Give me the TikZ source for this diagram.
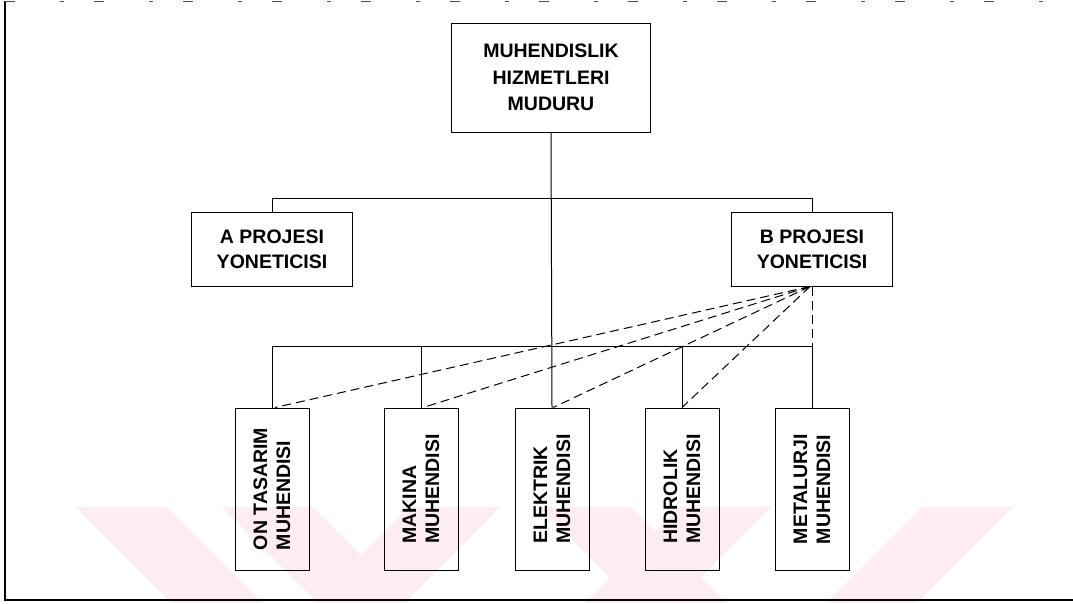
\documentclass[tikz,border=0pt]{standalone}
\usepackage{fontspec}
\setmainfont{Liberation Sans}
\definecolor{wmpink}{RGB}{253,236,240}
\begin{document}
\begin{tikzpicture}[x=1pt,y=-1pt,
  box/.style={draw, line width=1pt, inner sep=0pt, align=center},
  topbox/.style={box, minimum width=199pt, minimum height=109pt, font=\fontsize{19.5}{26.5}\selectfont\bfseries},
  midbox/.style={box, minimum width=161pt, minimum height=74pt, font=\fontsize{19.5}{25}\selectfont\bfseries},
  engbox/.style={box, minimum width=74pt, minimum height=162pt},
  engtext/.style={rotate=90, align=left, inner sep=0pt, font=\fontsize{19.5}{23}\selectfont\bfseries},
  link/.style={line width=1pt},
  staff/.style={line width=1pt, dash pattern=on 9pt off 5pt},
  frame/.style={line width=1.2pt}
]
\useasboundingbox (0,0) rectangle (1073,603);

% faint chevron watermark along the bottom edge
\begin{scope}[fill=wmpink]
  \fill (76,507) -- (167,507) -- (263,603) -- (172,603) -- cycle;
  \fill (222,507) -- (313,507) -- (409,603) -- (318,603) -- cycle;
  \fill (409,507) -- (500,507) -- (404,603) -- (313,603) -- cycle;
  \fill (540,507) -- (631,507) -- (727,603) -- (636,603) -- cycle;
  \fill (680,507) -- (771,507) -- (675,603) -- (584,603) -- cycle;
  \fill (922,507) -- (1013,507) -- (917,603) -- (826,603) -- cycle;
\end{scope}

% page frame
\coordinate (ftl) at (5,1);
\coordinate (fbl) at (5,600);
\coordinate (fbr) at (1073,600);
\coordinate (ftr) at (1060,1);
\draw[frame] (ftl) -- (fbl) -- (fbr);
\draw[line width=0.7pt, black!70, dash pattern=on 10pt off 45pt on 4pt off 30pt] (ftl) -- (ftr);

% boxes
\node[topbox] (dir) at (551,77.5) {MUHENDISLIK\\HIZMETLERI\\MUDURU};
\node[midbox] (pa) at (272,249) {A PROJESI\\YONETICISI};
\node[midbox] (pb) at (812,249) {B PROJESI\\YONETICISI};

\node[engbox] (e1) at (272,489) {};
\node[engbox] (e2) at (421,489) {};
\node[engbox] (e3) at (552,489) {};
\node[engbox] (e4) at (682,489) {};
\node[engbox] (e5) at (812,489) {};
\node[engtext] (t1) at (e1) {ON TASARIM\\MUHENDISI};
\node[engtext] (t2) at (e2) {MAKINA\\MUHENDISI};
\node[engtext] (t3) at (e3) {ELEKTRIK\\MUHENDISI};
\node[engtext] (t4) at (e4) {HIDROLIK\\MUHENDISI};
\node[engtext] (t5) at (e5) {METALURJI\\MUHENDISI};

% line organisation
\coordinate (upbar) at (272,198);
\coordinate (lowbar) at (272,346);
\draw[link] (dir.south) -- (e3.north);
\draw[link] (pa.north) -- (upbar) -| (pb.north);
\draw[link] (e1.north) -- (lowbar) -| (e5.north);
\draw[link] (e2.north) -- (e2.north |- lowbar);
\draw[link] (e4.north) -- (e4.north |- lowbar);

% project authority (dashed)
\coordinate (hub) at ([xshift=-2pt]pb.south);
\draw[staff] (pb.south) -- (pb.south |- lowbar);
\draw[staff] (hub) -- ([xshift=3pt]e1.north);
\draw[staff] (hub) -- ([xshift=2pt]e2.north);
\draw[staff] (hub) -- ([xshift=1pt]e3.north);
\draw[staff] (hub) -- (e4.north);
\end{tikzpicture}
\end{document}
